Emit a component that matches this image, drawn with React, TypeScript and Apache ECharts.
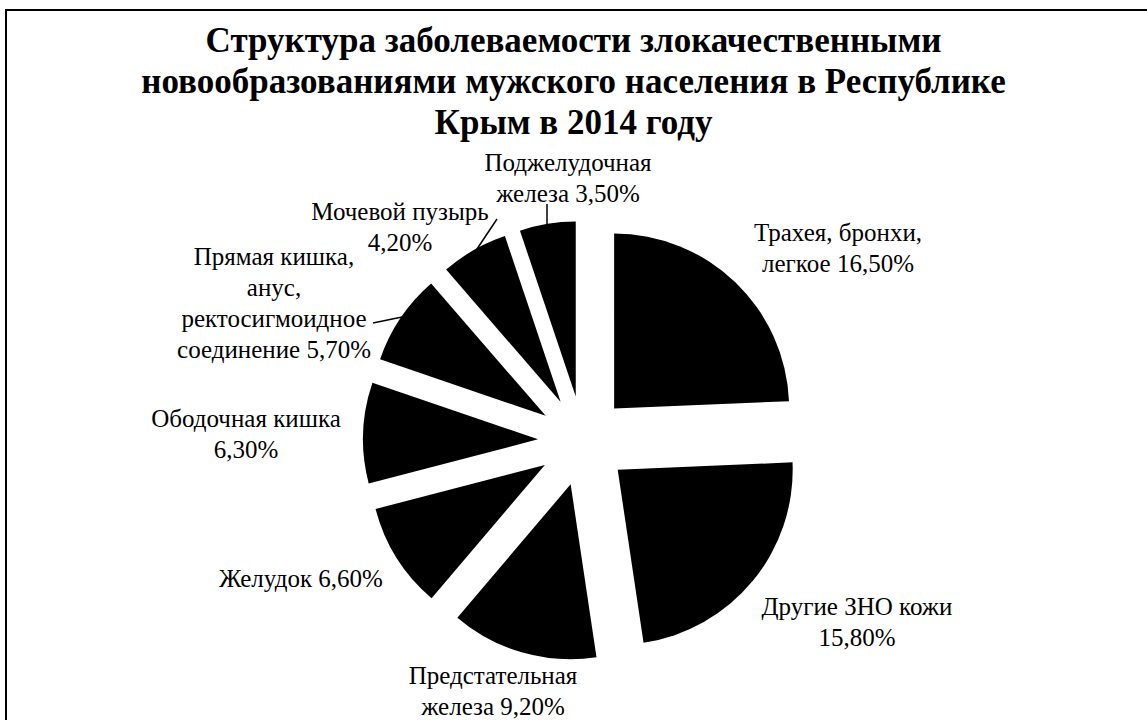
import React, { useEffect, useRef } from "react";
import * as echarts from "echarts";

const titleLines = [
  "Структура заболеваемости злокачественными",
  "новообразованиями мужского населения в Республике",
  "Крым в 2014 году",
];

const categories = [
  "Трахея, бронхи,\nлегкое",
  "Другие ЗНО кожи",
  "Предстательная\nжелеза",
  "Желудок",
  "Ободочная кишка",
  "Прямая кишка,\nанус,\nректосигмоидное\nсоединение",
  "Мочевой пузырь",
  "Поджелудочная\nжелеза",
];

const values = [16.5, 15.8, 9.2, 6.6, 6.3, 5.7, 4.2, 3.5];

// separator between name and percentage in each label
const separators = [" ", "\n", " ", " ", "\n", " ", "\n", " "];

// label centre positions (layout)
const labelPositions: [number, number][] = [
  [838, 248],
  [857, 622],
  [493, 691],
  [301, 578],
  [246, 434],
  [274, 303],
  [400, 227],
  [568, 178],
];

// leader lines (layout annotations) for labels that have them
const leaderLines: [number, number][][] = [
  [
    [373, 323],
    [402, 317],
  ],
  [
    [497, 219],
    [475, 252],
  ],
  [
    [547, 204],
    [547, 224],
  ],
];

const FONT = '"Times New Roman", "Liberation Serif", serif';

function fmt(v: number) {
  return v.toFixed(2).replace(".", ",") + "%";
}

export default function App() {
  const ref = useRef<HTMLDivElement>(null);

  useEffect(() => {
    document.body.style.margin = "0";
    if (!ref.current) return;
    const chart = echarts.init(ref.current, undefined, { renderer: "svg" });

    const data = categories.map((name, i) => ({
      name,
      value: values[i],
      selected: true,
    }));

    const labelTexts = categories.map((name, i) => ({
      type: "text",
      silent: true,
      style: {
        text: name + separators[i] + fmt(values[i]),
        x: labelPositions[i][0],
        y: labelPositions[i][1],
        textAlign: "center",
        textVerticalAlign: "middle",
        fontFamily: FONT,
        fontSize: 25,
        lineHeight: 31,
        fill: "#000",
      },
    }));

    const lines = leaderLines.map((pts) => ({
      type: "polyline",
      silent: true,
      shape: { points: pts },
      style: { stroke: "#000", lineWidth: 1.5, fill: "none" },
    }));

    chart.setOption({
      animation: false,
      backgroundColor: "#ffffff",
      title: {
        text: titleLines.join("\n"),
        left: "center",
        top: 15,
        textStyle: {
          fontFamily: FONT,
          fontWeight: "bold",
          fontSize: 35,
          lineHeight: 41,
          color: "#000",
        },
      },
      graphic: [
        {
          type: "rect",
          silent: true,
          shape: { x: 6, y: 10, width: 1170, height: 740 },
          style: { fill: "none", stroke: "#000", lineWidth: 2 },
        },
        ...labelTexts,
        ...lines,
      ],
      series: [
        {
          type: "pie",
          center: [583, 441],
          radius: 175,
          startAngle: 90,
          clockwise: true,
          selectedMode: "multiple",
          selectedOffset: 45,
          avoidLabelOverlap: false,
          itemStyle: { color: "#000", borderWidth: 0 },
          select: { itemStyle: { color: "#000", borderWidth: 0 } },
          emphasis: { disabled: true, scale: false },
          label: { show: false },
          labelLine: { show: false },
          data,
        },
      ],
    });

    return () => chart.dispose();
  }, []);

  return (
    <div
      ref={ref}
      style={{ position: "fixed", left: 0, top: 0, width: 1147, height: 720 }}
    />
  );
}
